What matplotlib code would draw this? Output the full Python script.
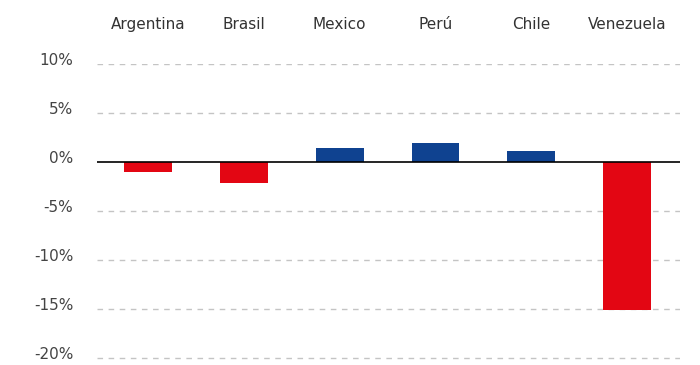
import matplotlib
matplotlib.use("Agg")
import matplotlib.pyplot as plt
from matplotlib.ticker import FuncFormatter
from matplotlib.transforms import ScaledTranslation

countries = ["Argentina", "Brasil", "Mexico", "Perú", "Chile", "Venezuela"]
values = [-1.0, -2.1, 1.4, 1.9, 1.1, -15.1]
yticks = [10, 5, 0, -5, -10, -15, -20]

red = "#e30613"
blue = "#0f4290"
colors = [red if v < 0 else blue for v in values]

plt.rcParams['font.family'] = ['DejaVu Sans']

fig = plt.figure(figsize=(7, 3.65), dpi=100)
ax = fig.add_axes([97/700, 1-360/365, (680-97)/700, (360-64)/365])

x = list(range(len(countries)))
ax.bar(x, values, width=0.5, color=colors, zorder=3)

for t in yticks:
    if t == 0:
        ax.axhline(0, color="black", lw=1.2, zorder=4)
    else:
        ax.axhline(t, color="#c4c4c4", lw=1, ls=(0, (4, 4)), zorder=1)

ax.set_ylim(-20.2, 10)
ax.set_xlim(-0.53, 5.55)
ax.set_yticks(yticks)
ax.yaxis.set_major_formatter(FuncFormatter(lambda v, p: f"{int(v)}%"))
ax.set_xticks(x)
ax.set_xticklabels(countries)
ax.xaxis.tick_top()
ax.tick_params(axis="x", length=0, pad=23, labelsize=11, labelcolor="#333333")
ax.tick_params(axis="y", length=0, pad=17, labelsize=11, labelcolor="#444444")
for s in ax.spines.values():
    s.set_visible(False)

offset = ScaledTranslation(0, 0.05, fig.dpi_scale_trans)
for lab in ax.get_yticklabels():
    lab.set_transform(lab.get_transform() + offset)

fig.savefig("out.png", dpi=100)
